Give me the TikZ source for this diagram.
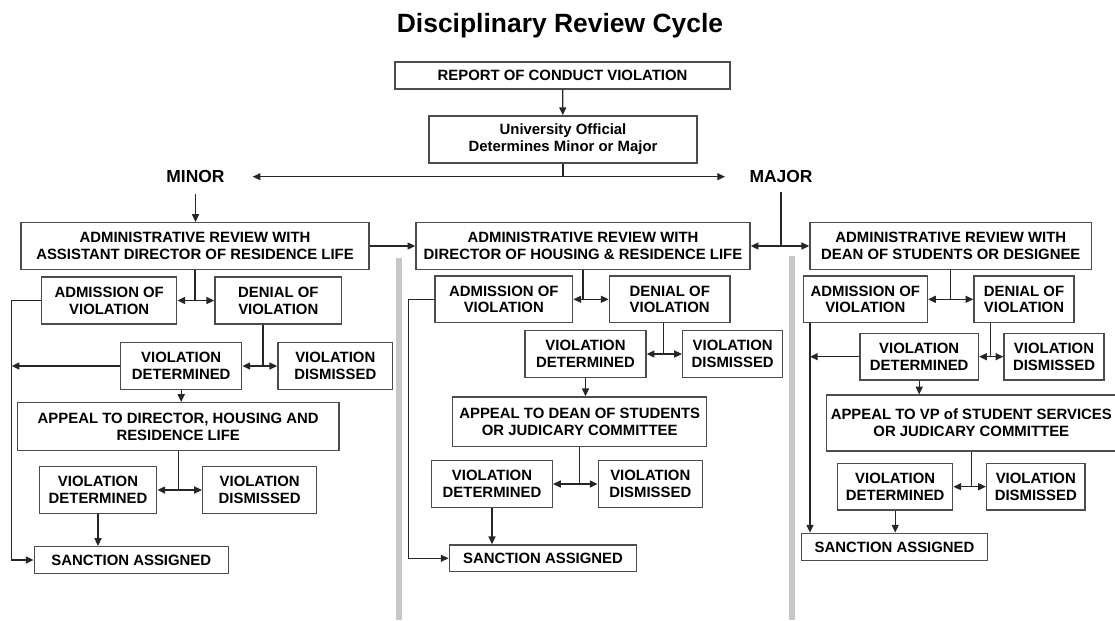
\documentclass[tikz,border=0pt]{standalone}
\usepackage{fontspec}
\setmainfont{Liberation Sans}
\usetikzlibrary{arrows.meta}

\begin{document}
\begin{tikzpicture}[x=0.025cm, y=-0.025cm,
    box/.style={draw=black!70, line width=1.05pt, inner sep=0pt, align=center,
      font=\bfseries\fontsize{10.6}{12}\selectfont},
    dims/.style 2 args={minimum width=#1*0.025cm, minimum height=#2*0.025cm},
    lab/.style={inner sep=0pt, font=\bfseries\fontsize{12.4}{14}\selectfont},
    link/.style={draw=black!85, line width=0.9pt},
    arr/.style={link, -{Triangle[length=5.5pt, width=5pt]}},
    bar/.style={fill=black!22}]
    \useasboundingbox (0,0) rectangle (1115,620);

    % Grey separators between the three columns
    \fill[bar] (396,258) rectangle (401.7,620);
    \fill[bar] (789,256) rectangle (794.5,620);

    % Title and first decision
    \node[font=\bfseries\fontsize{18.8}{22}\selectfont] (title) at (560,26) {Disciplinary Review Cycle};
    \node[box, dims={335}{27}] (report) at (562.5,75.3) {REPORT OF CONDUCT VIOLATION};
    \node[box, dims={268}{47}] (official) at (563,139.3) {University Official\\Determines Minor or Major};
    \node[lab] (minor) at (195.5,176) {MINOR};
    \node[lab] (major) at (781,176) {MAJOR};
    \coordinate (minortip) at (252.7,176.7);
    \coordinate (majortip) at (725,176.7);

    \draw[arr] (report) -- (official);
    \draw[link] (official.south) -- (official.south |- minortip);
    \draw[arr] (official.south |- minortip) -- (minortip);
    \draw[arr] (official.south |- minortip) -- (majortip);

    % MINOR: assistant director of residence life
    \node[box, dims={348}{46.6}] (admL) at (195,246) {ADMINISTRATIVE REVIEW WITH\\ASSISTANT DIRECTOR OF RESIDENCE LIFE};
    \node[box, dims={135}{47}] (admitL) at (109.2,300.5) {ADMISSION OF\\VIOLATION};
    \node[box, dims={126.7}{47}] (denyL) at (278.3,300.5) {DENIAL OF\\VIOLATION};
    \node[box, dims={121}{46.6}] (detL) at (181.2,366) {VIOLATION\\DETERMINED};
    \node[box, dims={114.7}{46.6}] (disL) at (335.3,366) {VIOLATION\\DISMISSED};
    \node[box, dims={321.7}{48}] (appL) at (178.2,426.7) {APPEAL TO DIRECTOR, HOUSING AND\\RESIDENCE LIFE};
    \node[box, dims={117.4}{46.6}] (det2L) at (98,490) {VIOLATION\\DETERMINED};
    \node[box, dims={114}{46.6}] (dis2L) at (259.7,490) {VIOLATION\\DISMISSED};
    \node[box, dims={194}{26.6}] (sanL) at (131.3,560) {SANCTION ASSIGNED};
    \coordinate (railL) at (11.7,0);
    \coordinate (jL) at (263,366);

    \draw[arr] ([yshift=-0.28cm]minor.south) -- (minor.south |- admL.north);
    \draw[link] (admL.south) -- (admL.south |- admitL);
    \draw[arr] (admL.south |- admitL) -- (admitL.east);
    \draw[arr] (admL.south |- admitL) -- (denyL.west);
    \draw[link] (jL |- denyL.south) -- (jL);
    \draw[arr] (jL) -- (detL.east);
    \draw[arr] (jL) -- (disL.west);
    \draw[arr] (detL.west) -- (railL |- detL);
    \draw[arr] (detL.south) -- (detL.south |- appL.north);
    \draw[link] (appL.south) -- (appL.south |- det2L);
    \draw[arr] (appL.south |- det2L) -- (det2L.east);
    \draw[arr] (appL.south |- det2L) -- (dis2L.west);
    \draw[arr] (det2L.south) -- (det2L.south |- sanL.north);
    \draw[arr] (admitL.west) -| (railL |- sanL) -- (sanL.west);

    % MAJOR: director of housing and residence life
    \node[box, dims={334}{46.6}] (admM) at (583,246) {ADMINISTRATIVE REVIEW WITH\\DIRECTOR OF HOUSING \& RESIDENCE LIFE};
    \node[box, dims={137.7}{46.7}] (admitM) at (503.8,299.3) {ADMISSION OF\\VIOLATION};
    \node[box, dims={120.7}{46.7}] (denyM) at (669.7,299.3) {DENIAL OF\\VIOLATION};
    \node[box, dims={121}{46.6}] (detM) at (585.5,354) {VIOLATION\\DETERMINED};
    \node[box, dims={100}{46.6}] (disM) at (732.7,354) {VIOLATION\\DISMISSED};
    \node[box, dims={254}{49.7}] (appM) at (579.7,421.8) {APPEAL TO DEAN OF STUDENTS\\OR JUDICARY COMMITTEE};
    \node[box, dims={120.6}{46.7}] (det2M) at (492,484) {VIOLATION\\DETERMINED};
    \node[box, dims={104}{46.7}] (dis2M) at (650.3,484) {VIOLATION\\DISMISSED};
    \node[box, dims={187.4}{26.7}] (sanM) at (543,558.3) {SANCTION ASSIGNED};
    \coordinate (railM) at (408.3,0);
    \coordinate (jM) at (663.3,354);
    \coordinate (jmajor) at (major.south |- admM);

    \draw[arr] (admL.east) -- (admM.west);
    \draw[link] ([yshift=-0.25cm]major.south) -- (jmajor);
    \draw[link] (admM.south) -- (admM.south |- admitM);
    \draw[arr] (admM.south |- admitM) -- (admitM.east);
    \draw[arr] (admM.south |- admitM) -- (denyM.west);
    \draw[link] (jM |- denyM.south) -- (jM);
    \draw[arr] (jM) -- (detM.east);
    \draw[arr] (jM) -- (disM.west);
    \draw[arr] (detM.south) -- (detM.south |- appM.north);
    \draw[link] (appM.south) -- (appM.south |- det2M);
    \draw[arr] (appM.south |- det2M) -- (det2M.east);
    \draw[arr] (appM.south |- det2M) -- (dis2M.west);
    \draw[arr] (det2M.south) -- (det2M.south |- sanM.north);
    \draw[arr] (admitM.west) -| (railM |- sanM) -- (sanM.west);

    % MAJOR: dean of students or designee
    \node[box, dims={281.7}{46.6}] (admR) at (950.8,246) {ADMINISTRATIVE REVIEW WITH\\DEAN OF STUDENTS OR DESIGNEE};
    \node[box, dims={124}{46.7}] (admitR) at (865.3,299.3) {ADMISSION OF\\VIOLATION};
    \node[box, dims={100}{46.7}] (denyR) at (1024,299.3) {DENIAL OF\\VIOLATION};
    \node[box, dims={118.3}{46.7}] (detR) at (919.2,356.7) {VIOLATION\\DETERMINED};
    \node[box, dims={100}{46.7}] (disR) at (1054,356.7) {VIOLATION\\DISMISSED};
    \node[box, dims={289.3}{55.7}] (appR) at (971.3,423) {APPEAL TO VP of STUDENT SERVICES\\OR JUDICARY COMMITTEE};
    \node[box, dims={115}{46.7}] (det2R) at (895.2,486.7) {VIOLATION\\DETERMINED};
    \node[box, dims={98.3}{46.7}] (dis2R) at (1035.8,486.7) {VIOLATION\\DISMISSED};
    \node[box, dims={185.6}{27.4}] (sanR) at (894.5,547) {SANCTION ASSIGNED};
    \coordinate (railR) at (810,0);
    \coordinate (jR) at (990.7,356.7);

    \draw[arr] (jmajor) -- (admM.east);
    \draw[arr] (jmajor) -- (admR.west);
    \draw[link] (admR.south) -- (admR.south |- admitR);
    \draw[arr] (admR.south |- admitR) -- (admitR.east);
    \draw[arr] (admR.south |- admitR) -- (denyR.west);
    \draw[link] (jR |- denyR.south) -- (jR);
    \draw[arr] (jR) -- (detR.east);
    \draw[arr] (jR) -- (disR.west);
    \draw[arr] (detR.west) -- (railR |- detR);
    \draw[arr] (detR.south) -- (detR.south |- appR.north);
    \draw[link] (appR.south) -- (appR.south |- det2R);
    \draw[arr] (appR.south |- det2R) -- (det2R.east);
    \draw[arr] (appR.south |- det2R) -- (dis2R.west);
    \draw[arr] (det2R.south) -- (det2R.south |- sanR.north);
    \draw[arr] (railR |- admitR.south) -- (railR |- sanR.north);
\end{tikzpicture}
\end{document}
